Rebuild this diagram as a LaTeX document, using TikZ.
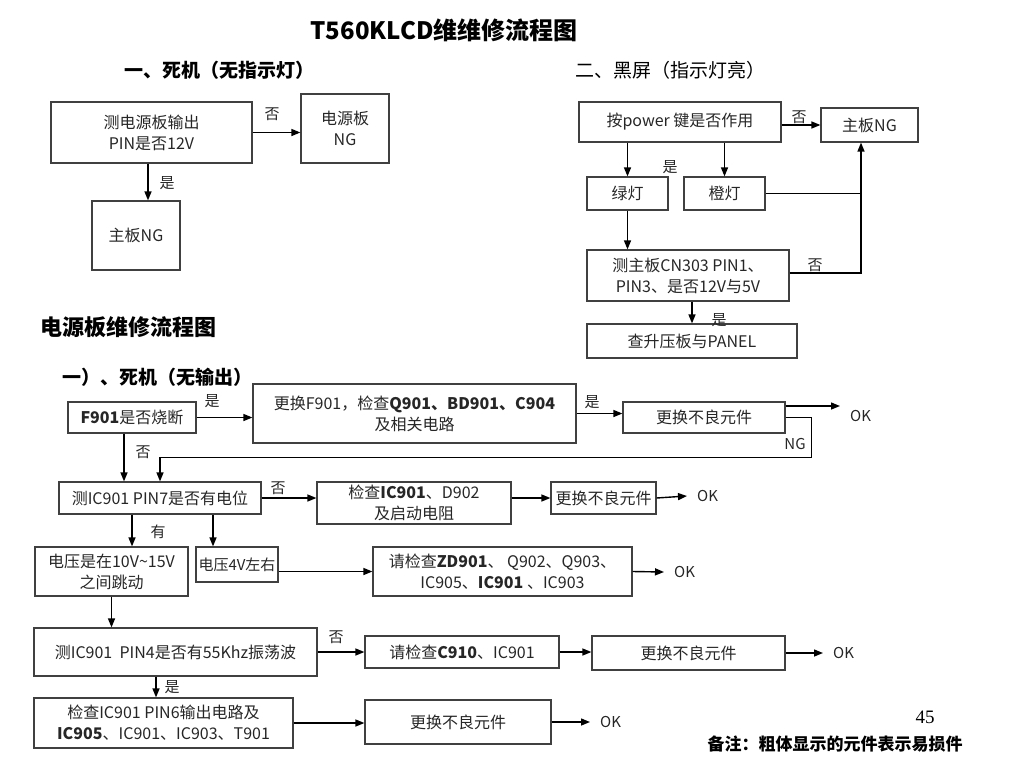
\documentclass[tikz,border=0pt]{standalone}
\usepackage{fontspec}
\setmainfont{Noto Sans CJK SC}
\newfontfamily\numfont{Liberation Serif}
\usetikzlibrary{arrows.meta}

\begin{document}
\begin{tikzpicture}[x=1pt, y=-1pt,
  >={Triangle[length=9pt,width=7pt]},
  box/.style 2 args={draw=black!75, line width=1.2pt, minimum width=#1, minimum height=#2, align=center, inner sep=2pt, text=black!85, font=\fontsize{16}{21}\selectfont},
  lbl/.style={inner sep=0pt, text=black!85, font=\fontsize{15}{18}\selectfont},
  ok/.style={anchor=west, inner xsep=10pt, text=black!85, font=\fontsize{15}{18}\selectfont},
  head/.style={inner sep=0pt, font=\fontsize{19}{22}\selectfont},
  link/.style={->, line width=1.4pt}]
\useasboundingbox (0,0) rectangle (1024,768);

\node[inner sep=0pt, font=\fontsize{24}{28}\selectfont\bfseries] (Title) at (444,30) {T560KLCD维维修流程图};
\node[head, font=\fontsize{19}{22}\selectfont\bfseries] (DeadHead) at (219,70) {一、死机（无指示灯）};
\node[head] (BlackHead) at (670,70) {二、黑屏（指示灯亮）};

% 一、死机
\node[box={201}{61}] (Test12V) at (151.5,132.5) {测电源板输出\\PIN是否12V};
\node[box={88}{69}] (PowerNG) at (345,128.5) {电源板\\NG};
\node[box={88}{69}] (MainNG) at (136,235.5) {主板NG};
\draw[link] (Test12V.east) -- (Test12V.east -| PowerNG.west);
\draw[link] ([xshift=-3.5]Test12V.south) -- ([xshift=-3.5]Test12V.south |- MainNG.north);
\node[lbl] (No1) at (272,114) {否};
\node[lbl] (Yes1) at (167,183) {是};

% 二、黑屏
\node[box={202}{40}] (PowerKey) at (680,122) {按power 键是否作用};
\node[box={97}{34}] (MainNG2) at (869.5,125) {主板NG};
\node[box={81}{33}] (Green) at (627.5,193.5) {绿灯};
\node[box={81}{33}] (Orange) at (724.5,193.5) {橙灯};
\node[box={202}{51}] (TestCN) at (688,275.5) {测主板CN303 PIN1、\\PIN3、是否12V与5V};
\node[box={210}{34}] (Panel) at (692,341) {查升压板与PANEL};
\coordinate (Join) at ([xshift=-8.5]MainNG2.south);
\draw[link] (PowerKey.east |- MainNG2.west) -- (MainNG2.west);
\draw[link] (PowerKey.south -| Green.north) -- (Green.north);
\draw[link] (PowerKey.south -| Orange.north) -- (Orange.north);
\draw[link] (Green.south) -- (Green.south |- TestCN.north);
\draw[link] (Panel.north |- TestCN.south) -- (Panel.north);
\draw[link] ([yshift=2.5]TestCN.east) -| (Join);
\draw[line width=1.4pt] (Orange.east) -- (Orange.east -| Join);
\node[lbl] (No2) at (799,117) {否};
\node[lbl] (Yes2) at (670,167) {是};
\node[lbl] (No3) at (815,265) {否};
\node[lbl] (Yes3) at (719,320) {是};

% 电源板维修流程图
\node[head, font=\fontsize{22}{26}\selectfont\bfseries] (PSUHead) at (128,327) {电源板维修流程图};
\node[head, font=\fontsize{19}{22}\selectfont\bfseries] (NoOutHead) at (157.5,377) {一）、死机（无输出）};

\node[box={128}{31}] (Fuse) at (132,417.5) {\textbf{F901}是否烧断};
\node[box={323}{59}] (SwapF901) at (414.5,413.5) {更换F901，检查\textbf{Q901、BD901、C904}\\及相关电路};
\node[box={162}{31}] (Replace1) at (704,417.5) {更换不良元件};
\node[ok] (OK1) at (840,416) {OK};
\node[box={202}{32}] (TestPin7) at (160,498) {测IC901 PIN7是否有电位};
\node[box={194}{42}] (CheckIC) at (414,503) {检查\textbf{IC901}、D902\\及启动电阻};
\node[box={105}{32}] (Replace2) at (603.5,498) {更换不良元件};
\node[ok] (OK2) at (687,496) {OK};
\node[box={153}{49}] (Jump) at (111.5,571.5) {电压是在10V\textasciitilde15V\\之间跳动};
\node[box={82}{35}, font=\fontsize{15}{20}\selectfont] (Volt4) at (237,564.5) {电压4V左右};
\node[box={259}{49}] (CheckZD) at (502.5,571.5) {请检查\textbf{ZD901}、 Q902、Q903、\\IC905、\textbf{IC901} 、IC903};
\node[ok] (OK3) at (664,572) {OK};
\node[box={283}{48}] (TestPin4) at (175.5,652) {测IC901\ \ PIN4是否有55Khz振荡波};
\node[box={194}{32}] (CheckC910) at (462,652) {请检查\textbf{C910}、IC901};
\node[box={193}{34}] (Replace3) at (688.5,653) {更换不良元件};
\node[ok] (OK4) at (823,653) {OK};
\node[box={259}{50}] (CheckPin6) at (163.5,723) {检查IC901 PIN6输出电路及\\\textbf{IC905}、IC901、IC903、T901};
\node[box={186}{44}] (Replace4) at (458,722) {更换不良元件};
\node[ok] (OK5) at (590,722) {OK};

\draw[link] (Fuse.east) -- (Fuse.east -| SwapF901.west);
\draw[link] (SwapF901.east) -- (SwapF901.east -| Replace1.west);
\draw[link] ([yshift=11.5]Replace1.east) -- ([yshift=11.5]Replace1.east -| OK1.west);
\draw[link] (Replace1.east) -| ++(26,40) -| (TestPin7.north);
\draw[link] ([xshift=-8]Fuse.south) -- ([xshift=-8]Fuse.south |- TestPin7.north);
\draw[link] (TestPin7.east) -- (TestPin7.east -| CheckIC.west);
\draw[link] (CheckIC.east |- Replace2.west) -- (Replace2.west);
\draw[link] (Replace2.east) -- (OK2.west);
\draw[link] ([xshift=-28]TestPin7.south) -- ([xshift=-28]TestPin7.south |- Jump.north);
\draw[link] ([xshift=53]TestPin7.south) -- ([xshift=53]TestPin7.south |- Volt4.north);
\draw[link] (Volt4.east |- CheckZD.west) -- (CheckZD.west);
\draw[link] (CheckZD.east) -- (OK3.west);
\draw[link] (Jump.south) -- (Jump.south |- TestPin4.north);
\draw[link] (TestPin4.east) -- (CheckC910.west);
\draw[link] (CheckC910.east) -- (CheckC910.east -| Replace3.west);
\draw[link] (Replace3.east) -- (OK4.west);
\draw[link] ([xshift=-19.5]TestPin4.south) -- ([xshift=-19.5]TestPin4.south |- CheckPin6.north);
\draw[link] (CheckPin6.east) -- (CheckPin6.east -| Replace4.west);
\draw[link] (Replace4.east) -- (OK5.west);
\node[lbl] (Yes4) at (212,401) {是};
\node[lbl] (Yes5) at (592,402) {是};
\node[lbl] (NG1) at (795,444) {NG};
\node[lbl] (No4) at (143,452) {否};
\node[lbl] (No5) at (278,488) {否};
\node[lbl] (Have) at (158,532) {有};
\node[lbl] (No6) at (336,637) {否};
\node[lbl] (Yes6) at (172,687) {是};

\node[inner sep=0pt, font=\numfont\fontsize{19}{22}\selectfont] (PageNo) at (925,717) {45};
\node[inner sep=0pt, font=\fontsize{17}{20}\selectfont\bfseries] (Note) at (835,744) {备注：粗体显示的元件表示易损件};
\end{tikzpicture}
\end{document}
